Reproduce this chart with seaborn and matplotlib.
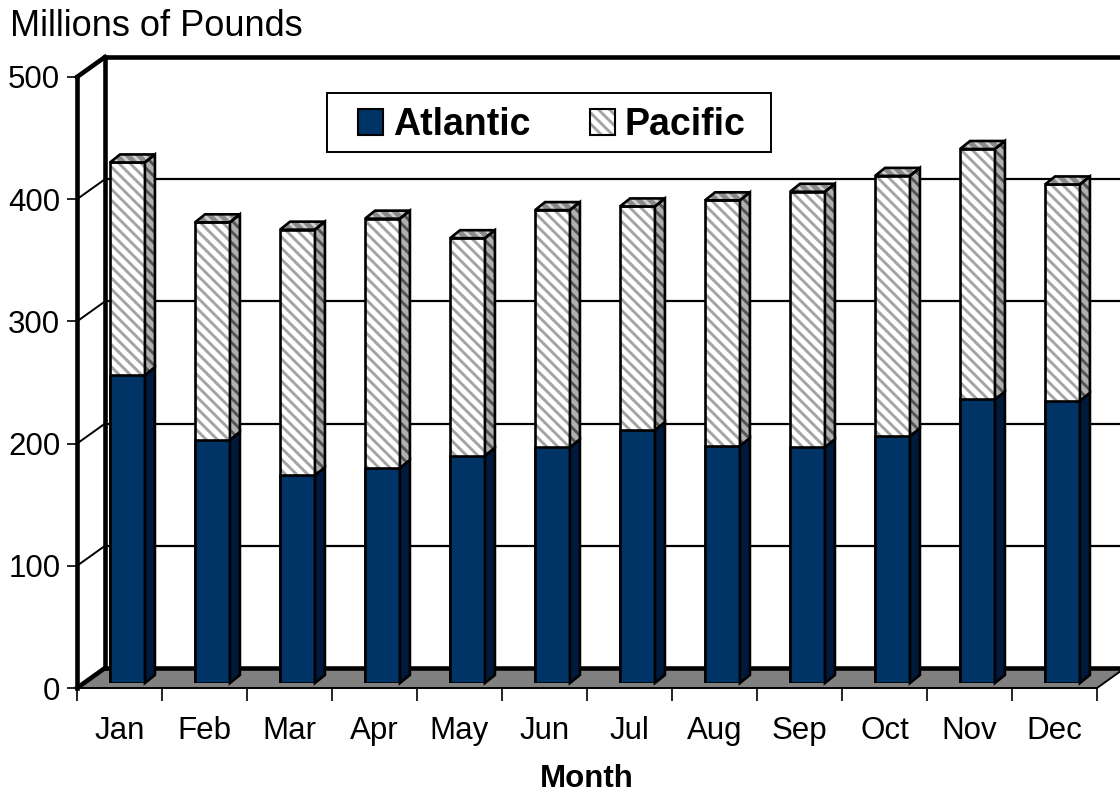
import matplotlib
matplotlib.use("Agg")
import matplotlib.pyplot as plt
import seaborn as sns
import pandas as pd
from matplotlib.patches import Polygon, Patch, Rectangle
from matplotlib.lines import Line2D
from matplotlib.transforms import IdentityTransform
from matplotlib.legend_handler import HandlerTuple

# ---------------- data ----------------
months = ["Jan", "Feb", "Mar", "Apr", "May", "Jun",
          "Jul", "Aug", "Sep", "Oct", "Nov", "Dec"]
atlantic = [252, 199, 170, 176, 186, 193, 207, 194, 193, 202, 232, 231]
pacific = [174, 178, 201, 204, 178, 194, 183, 201, 209, 213, 205, 177]
yticks = [0, 100, 200, 300, 400, 500]
series_names = ["Atlantic", "Pacific"]
y_title = "Millions of Pounds"
x_title = "Month"

totals = [a + p for a, p in zip(atlantic, pacific)]
df = pd.DataFrame({"month": months, "atlantic": atlantic, "total": totals})

# ---------------- style ----------------
sns.set_theme(style="white")
plt.rcParams["font.family"] = ["Liberation Sans", "DejaVu Sans"]
plt.rcParams["hatch.linewidth"] = 2.1
for k in ("text.color", "axes.labelcolor", "xtick.color", "ytick.color"):
    plt.rcParams[k] = "black"

NAVY = "#003366"
NAVY_SIDE = "#001a3d"
HATCH_BG = "#ffffff"
HATCH_FG = "#a4a4a4"
SIDE_BG = "#b0b0b0"
SIDE_FG = "#555555"
TOP_BG = "#8a8a8a"
TOP_FG = "#d0d0d0"
FLOOR = "#808080"
HATCH = "\\" * 3
EDGE_LW = 1.9

W, H = 1120, 795
fig = plt.figure(figsize=(W / 100, H / 100), dpi=100)


def rect(x_img, y_img_bottom, w=1020, h=611):
    return [x_img / W, (H - y_img_bottom) / H, w / W, h / H]


ax_b = fig.add_axes(rect(105, 668))  # back wall
ax = fig.add_axes(rect(85, 683))     # bar plane
ax_f = fig.add_axes(rect(77, 688))   # front axis
ax_b.set_zorder(0)
ax.set_zorder(1)
ax_f.set_zorder(2)

n = len(months)
for a in (ax_b, ax, ax_f):
    a.set_xlim(-0.5, n - 0.5)
    a.set_ylim(yticks[0], yticks[-1])

# ---------------- back wall ----------------
ax_b.set_facecolor("white")
ax_b.set_xticks([])
ax_b.set_yticks([])
for s in ("left", "top", "bottom"):
    ax_b.spines[s].set_visible(True)
    ax_b.spines[s].set_color("black")
    ax_b.spines[s].set_linewidth(3.3)
ax_b.spines["right"].set_visible(False)
for v in yticks[1:-1]:
    ax_b.axhline(v, color="black", lw=1.6, zorder=1.5)

ident = IdentityTransform()
fl = ax_f.transData.transform((-0.5, 0))
fr = ax_f.transData.transform((n - 0.5, 0))
br = ax_b.transData.transform((n - 0.5, 0))
bl = ax_b.transData.transform((-0.5, 0))
ax_b.add_patch(Polygon([fl, fr, br, bl], closed=True, transform=ident,
                       facecolor=FLOOR, edgecolor="black", lw=1.4,
                       clip_on=False, zorder=1))
# left side wall lines
for v in yticks:
    p0 = ax_f.transData.transform((-0.5, v))
    p1 = ax_b.transData.transform((-0.5, v))
    lw = 3.3 if v in (yticks[0], yticks[-1]) else 1.4
    ax_b.add_line(Line2D([p0[0], p1[0]], [p0[1], p1[1]], transform=ident,
                         color="black", lw=lw, clip_on=False, zorder=3,
                         solid_capstyle="projecting"))

# ---------------- bars ----------------
BW = 0.41
sns.barplot(data=df, x="month", y="total", ax=ax, color=HATCH_BG,
            saturation=1, width=BW, hatch=HATCH, edgecolor=HATCH_FG,
            linewidth=0)
tot_bars = list(ax.containers[0])
for p in tot_bars:
    ax.add_patch(Rectangle((p.get_x(), p.get_y()), p.get_width(),
                           p.get_height(), fill=False, edgecolor="black",
                           lw=EDGE_LW, zorder=1))
sns.barplot(data=df, x="month", y="atlantic", ax=ax, color=NAVY,
            saturation=1, width=BW, edgecolor="black", linewidth=EDGE_LW)
atl_bars = list(ax.containers[-1])

DX, DY = 10, 8
for pt, pa in zip(tot_bars, atl_bars):
    x0, x1 = pt.get_x(), pt.get_x() + pt.get_width()
    (xl, yb) = ax.transData.transform((x0, 0))
    (xr, ya) = ax.transData.transform((x1, pa.get_height()))
    (_, yt) = ax.transData.transform((x1, pt.get_height()))
    # atlantic side
    ax.add_patch(Polygon([(xr, yb), (xr, ya), (xr + DX, ya + DY), (xr + DX, yb + DY)],
                         transform=ident, facecolor=NAVY_SIDE, edgecolor="black",
                         lw=EDGE_LW, clip_on=False, zorder=2))
    # pacific side
    side = [(xr, ya), (xr, yt), (xr + DX, yt + DY), (xr + DX, ya + DY)]
    ax.add_patch(Polygon(side, transform=ident, facecolor=SIDE_BG, hatch=HATCH,
                         edgecolor=SIDE_FG, lw=0, clip_on=False, zorder=2))
    ax.add_patch(Polygon(side, transform=ident, fill=False, edgecolor="black",
                         lw=EDGE_LW, clip_on=False, zorder=2.1))
    # top
    top = [(xl, yt), (xr, yt), (xr + DX, yt + DY), (xl + DX, yt + DY)]
    ax.add_patch(Polygon(top, transform=ident, facecolor=TOP_BG, hatch=HATCH,
                         edgecolor=TOP_FG, lw=0, clip_on=False, zorder=2))
    ax.add_patch(Polygon(top, transform=ident, fill=False, edgecolor="black",
                         lw=EDGE_LW, clip_on=False, zorder=2.1))

ax.set_facecolor("none")
ax.set_xlim(-0.5, n - 0.5)
ax.set_ylim(yticks[0], yticks[-1])
ax.set_xticks([])
ax.set_yticks([])
ax.set_xlabel("")
ax.set_ylabel("")
for s in ax.spines.values():
    s.set_visible(False)

# ---------------- front axis ----------------
ax_f.set_facecolor("none")
for s in ("top", "right", "bottom"):
    ax_f.spines[s].set_visible(False)
ax_f.spines["left"].set_color("black")
ax_f.spines["left"].set_linewidth(3.3)
ax_f.set_yticks(yticks)
ax_f.set_yticklabels([str(v) for v in yticks])
ax_f.tick_params(axis="y", which="major", left=True, direction="out",
                 length=7, width=1.2, color="black", labelsize=22.5, pad=5,
                 labelcolor="black")
ax_f.set_xticks(range(n))
ax_f.set_xticklabels(months)
ax_f.set_xticks([i - 0.5 for i in range(n + 1)], minor=True)
ax_f.tick_params(axis="x", which="major", bottom=True, length=0,
                 labelsize=22.5, pad=20, labelcolor="black")
ax_f.tick_params(axis="x", which="minor", bottom=True, direction="out",
                 length=9, width=1.2, color="black")

fig.text(10 / W, (H - 27) / H, y_title, ha="left", va="center",
         fontsize=26, color="black")
fig.text(587 / W, (H - 779) / H, x_title, ha="center", va="center",
         fontsize=22.5, fontweight="bold", color="black")

# ---------------- legend ----------------
fig.patches.append(Rectangle((327 / W, (H - 152) / H), 444 / W, 59 / H,
                             transform=fig.transFigure, facecolor="white",
                             edgecolor="black", lw=1.4, zorder=4))
h_atl = Patch(facecolor=NAVY, edgecolor="black", lw=1.5)
h_pac_fill = Patch(facecolor="white", hatch=HATCH, edgecolor=HATCH_FG, lw=0)
h_pac_edge = Patch(fill=False, edgecolor="black", lw=1.5)
leg = fig.legend([h_atl, (h_pac_fill, h_pac_edge)], series_names,
                 handler_map={tuple: HandlerTuple(ndivide=1, pad=0)},
                 loc="center left", bbox_to_anchor=(358 / W, (H - 125) / H),
                 bbox_transform=fig.transFigure, ncol=2, frameon=False,
                 borderaxespad=0, borderpad=0,
                 prop={"weight": "bold", "size": 27},
                 handlelength=0.67, handleheight=0.67, handletextpad=0.27,
                 columnspacing=1.57)
leg.set_zorder(5)

fig.savefig("out.png", dpi=100)
